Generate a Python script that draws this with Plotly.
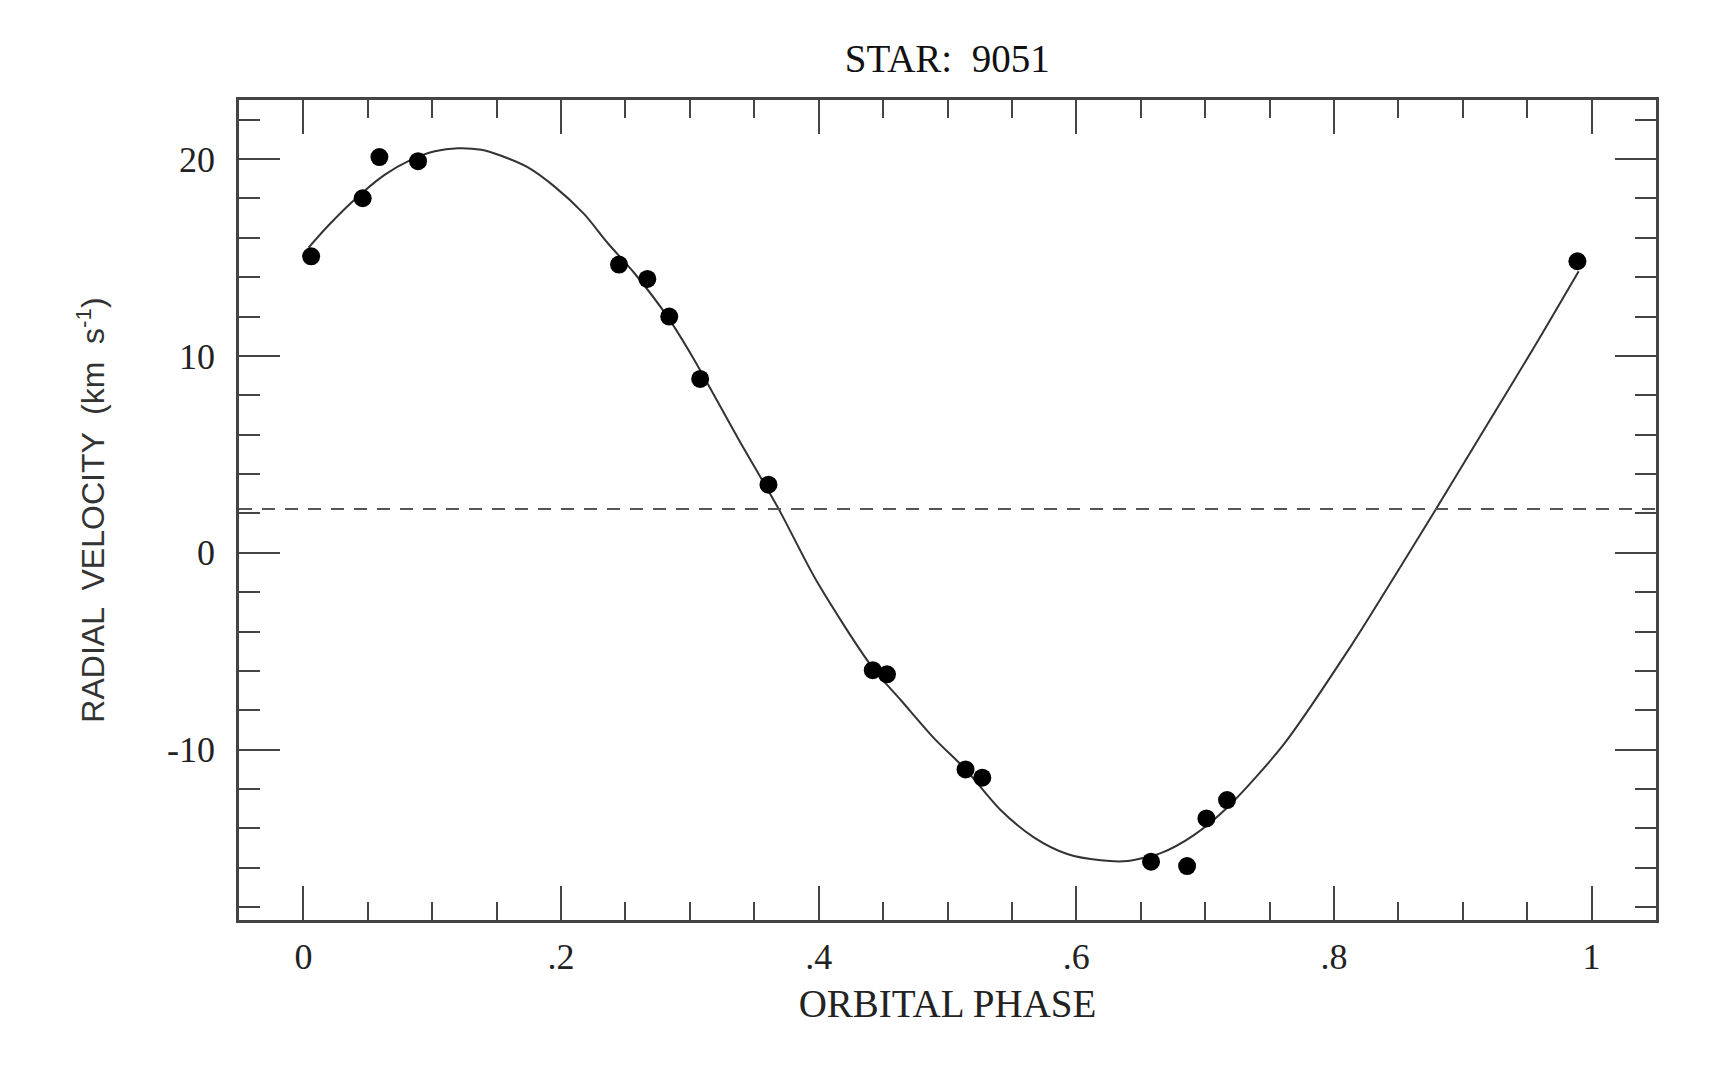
import plotly.graph_objects as go

# ---- data ----
obs_phase = [0.006, 0.046, 0.059, 0.089, 0.245, 0.267, 0.284, 0.308, 0.361,
             0.442, 0.453, 0.514, 0.527, 0.658, 0.686, 0.701, 0.717, 0.989]
obs_velocity = [15.06, 18.01, 20.10, 19.89, 14.64, 13.91, 12.00, 8.83, 3.46,
                -5.96, -6.17, -11.00, -11.42, -15.69, -15.91, -13.49, -12.56, 14.81]

curve_phase = [0.004, 0.019, 0.039, 0.063, 0.083, 0.102, 0.120, 0.138, 0.153,
               0.174, 0.195, 0.218, 0.236, 0.257, 0.283, 0.303, 0.337, 0.369,
               0.399, 0.442, 0.464, 0.490, 0.514, 0.541, 0.567, 0.593, 0.619,
               0.640, 0.666, 0.691, 0.717, 0.761, 0.813, 0.847, 0.879, 0.917,
               0.955, 0.990]
curve_velocity = [15.5, 16.6, 17.9, 19.2, 19.95, 20.4, 20.55, 20.47, 20.18,
                  19.59, 18.6, 17.2, 15.75, 14.2, 11.96, 9.85, 5.86, 2.22,
                  -1.5, -5.85, -7.5, -9.45, -11.0, -13.05, -14.45, -15.3, -15.62,
                  -15.65, -15.24, -14.35, -12.95, -9.73, -4.75, -1.2, 2.2, 6.3,
                  10.4, 14.3]

systemic_velocity = 2.22

x_tickvals = [0, 0.2, 0.4, 0.6, 0.8, 1.0]
x_ticktext = ["0", ".2", ".4", ".6", ".8", "1"]
y_tickvals = [-10, 0, 10, 20]
y_ticktext = ["-10", "0", "10", "20"]

title_text = "STAR:  9051"
x_title = "ORBITAL PHASE"
y_title = "RADIAL  VELOCITY  (km  s<sup>-1</sup>)"

# ---- figure (page body has an 8px margin, so the figure is offset by 8px) ----
W, H = 1715, 1050
ML, MT = 230.5, 91.5
PLOT_R, PLOT_B = 1648, 912
MR, MB = W - PLOT_R, H - PLOT_B
x_range = [-0.05, 1.05]
y_range = [-18.65, 23.0]

fig = go.Figure()

fig.add_trace(go.Scatter(
    x=curve_phase, y=curve_velocity, mode="lines",
    line=dict(color="#333333", width=2, shape="spline", smoothing=0.8),
    hoverinfo="skip", showlegend=False))

fig.add_trace(go.Scatter(
    x=[x_range[0], x_range[1]], y=[systemic_velocity, systemic_velocity],
    mode="lines", line=dict(color="#555555", width=2, dash="13px,10px"),
    hoverinfo="skip", showlegend=False))

fig.add_trace(go.Scatter(
    x=obs_phase, y=obs_velocity, mode="markers",
    marker=dict(color="black", size=18, line=dict(width=0)),
    showlegend=False))

axis_common = dict(
    showgrid=False, zeroline=False, showline=True, linecolor="#444444",
    linewidth=2.5, mirror="allticks", ticks="inside", tickcolor="#444444",
    tickwidth=2, tickfont=dict(family="Liberation Serif", size=36, color="#222222"),
)

fig.update_xaxes(
    **axis_common, range=x_range, tickmode="array",
    tickvals=x_tickvals, ticktext=x_ticktext, ticklen=34, ticklabelstandoff=3,
    minor=dict(tickmode="linear", tick0=0, dtick=0.05, ticks="inside",
               ticklen=18, tickcolor="#444444", tickwidth=2, showgrid=False),
    title=dict(text=x_title, font=dict(family="Liberation Serif", size=39, color="#222222"),
               standoff=14),
)
fig.update_yaxes(
    **axis_common, range=y_range, tickmode="array",
    tickvals=y_tickvals, ticktext=y_ticktext, ticklen=41, ticklabelstandoff=14,
    minor=dict(tickmode="linear", tick0=0, dtick=2, ticks="inside",
               ticklen=21, tickcolor="#444444", tickwidth=2, showgrid=False),
    title=dict(text=y_title, font=dict(family="Liberation Sans", size=32, color="#333333"),
               standoff=53),
)

pw = PLOT_R - ML
fig.update_layout(
    width=W, height=H,
    margin=dict(l=ML, r=MR, t=MT, b=MB, autoexpand=False),
    paper_bgcolor="white", plot_bgcolor="white",
    title=dict(text=title_text, x=(ML + pw / 2) / W, xanchor="center",
               y=1 - 50.5 / H, yanchor="middle",
               font=dict(family="Liberation Serif", size=39, color="#111111")),
    showlegend=False,
)

fig.write_html("out.html")
